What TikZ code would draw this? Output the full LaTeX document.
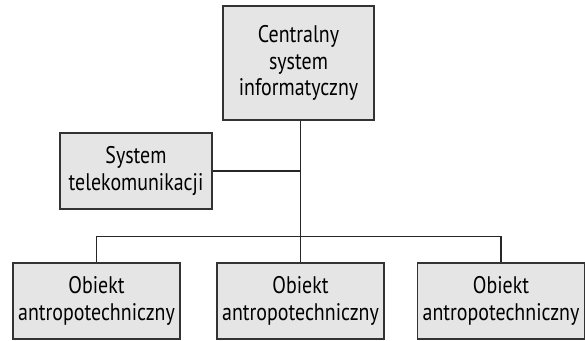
\documentclass[tikz,border=0pt]{standalone}
\usepackage{fontspec}
\setmainfont{PT Sans}[FakeStretch=0.83]
\begin{document}
\begin{tikzpicture}[x=1pt,y=1pt,
  box/.style={draw=black!80, line width=1.2pt, fill=black!10, inner sep=0pt, align=center,
    font=\fontsize{24}{26.5}\selectfont},
  conn/.style={draw=black!85, line width=1.2pt}]
\useasboundingbox (0,0) rectangle (585,340);
\node[box, minimum width=151pt, minimum height=114pt] (top) at (298.5,277) {Centralny\\system\\informatyczny};
\node[box, minimum width=152pt, minimum height=76pt] (sys) at (136,169) {System\\telekomunikacji};
\node[box, minimum width=167pt, minimum height=76pt] (left) at (96.5,39) {Obiekt\\antropotechniczny};
\node[box, minimum width=167pt, minimum height=76pt] (mid) at (300.5,39) {Obiekt\\antropotechniczny};
\node[box, minimum width=167pt, minimum height=76pt] (right) at (501,39) {Obiekt\\antropotechniczny};
\coordinate (trunk) at (mid.north |- top.south);
\path (left.north) ++(0,26) coordinate (busL);
\draw[conn] (trunk) -- (mid.north);
\draw[conn] (sys.east) -- (sys.east -| mid.north);
\draw[conn] (left.north) -- (busL) -- (busL -| right.north) -- (right.north);
\end{tikzpicture}
\end{document}
